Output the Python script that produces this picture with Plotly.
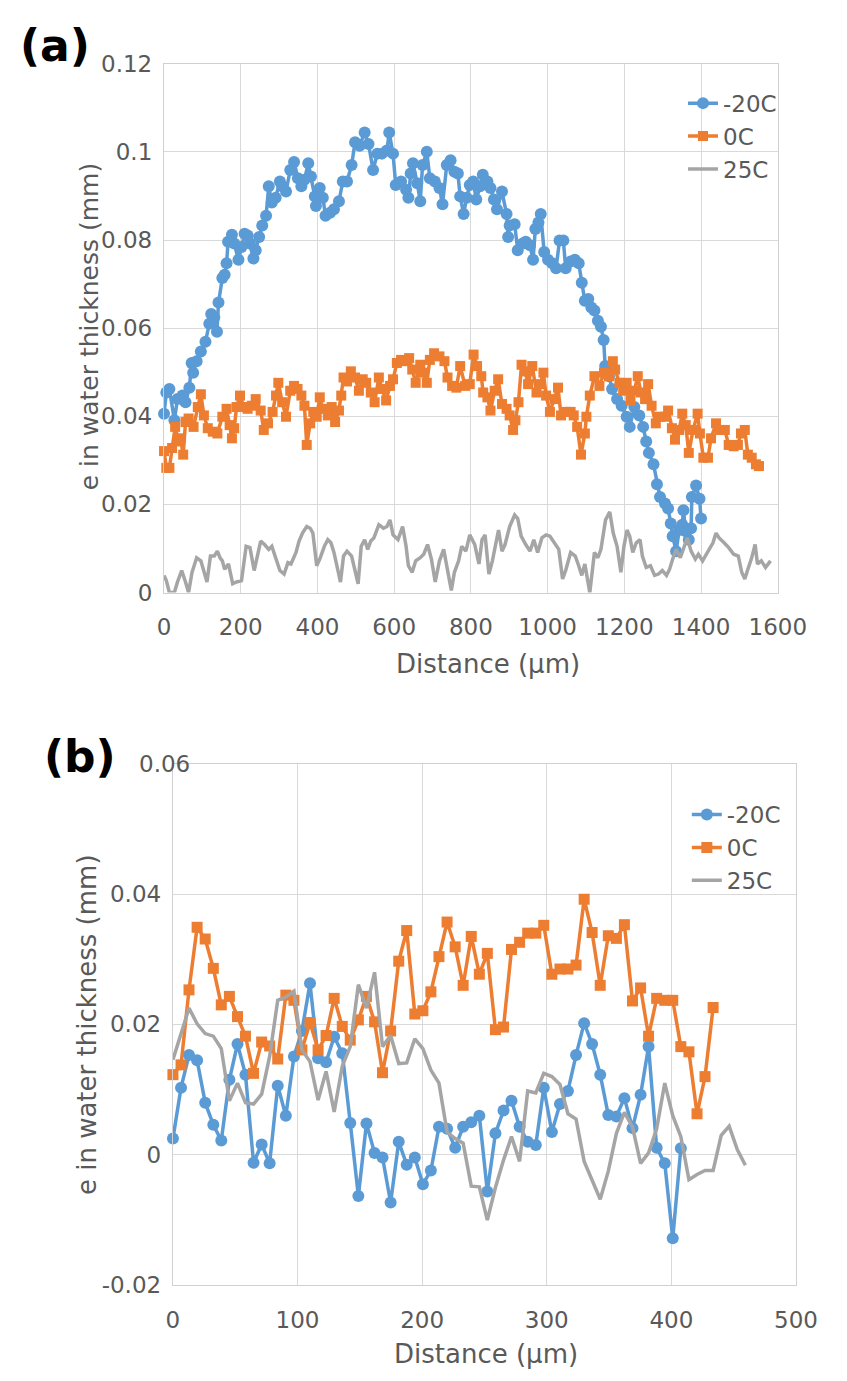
import plotly.graph_objects as go

# ---------------- Panel (a) data ----------------
a_m20_x = [0, 6, 14, 27, 35, 48, 56, 66, 72, 76, 85, 96, 108, 118, 123, 131, 138, 142, 152, 158,
           163, 167, 177, 183, 194, 202, 210, 218, 224, 233, 239, 248, 256, 266, 273, 281, 291, 302, 308, 318,
           329, 339, 349, 358, 366, 376, 383, 393, 396, 406, 414, 421, 433, 443, 456, 466, 477, 489, 498, 510,
           523, 533, 545, 556, 568, 581, 587, 597, 604, 618, 631, 637, 643, 649, 660, 668, 674, 685, 693, 706,
           718, 726, 737, 747, 757, 766, 772, 781, 789, 797, 806, 814, 824, 831, 843, 851, 860, 868, 881, 893,
           897, 901, 914, 922, 935, 943, 954, 962, 968, 976, 982, 991, 1001, 1012, 1022, 1031, 1041, 1047, 1060, 1071,
           1081, 1089, 1097, 1106, 1114, 1122, 1131, 1139, 1146, 1150, 1160, 1168, 1181, 1193, 1206, 1214, 1226, 1239, 1249, 1257,
           1264, 1276, 1285, 1293, 1306, 1314, 1321, 1326, 1335, 1343, 1351, 1354, 1360, 1368, 1374, 1376, 1387, 1396, 1400]
a_m20_y = [0.0406, 0.0454, 0.0462, 0.0391, 0.0439, 0.0447, 0.0432, 0.0465, 0.0521, 0.0499, 0.0525, 0.0547, 0.0569, 0.0610, 0.0632, 0.0625, 0.0592, 0.0658, 0.0714, 0.0721,
           0.0747, 0.0796, 0.0812, 0.0792, 0.0755, 0.0784, 0.0814, 0.0810, 0.0792, 0.0758, 0.0777, 0.0807, 0.0833, 0.0855, 0.0922, 0.0885, 0.0896, 0.0933, 0.0922, 0.0910,
           0.0959, 0.0977, 0.0940, 0.0922, 0.0937, 0.0974, 0.0944, 0.0899, 0.0877, 0.0918, 0.0896, 0.0855, 0.0862, 0.0870, 0.0888, 0.0933, 0.0933, 0.0970, 0.1022, 0.1014,
           0.1044, 0.1018, 0.0959, 0.0996, 0.0996, 0.1003, 0.1044, 0.0996, 0.0925, 0.0933, 0.0914, 0.0896, 0.0951, 0.0974, 0.0929, 0.0888, 0.0970, 0.1000, 0.0940, 0.0933,
           0.0918, 0.0881, 0.0970, 0.0981, 0.0955, 0.0951, 0.0899, 0.0859, 0.0896, 0.0925, 0.0933, 0.0892, 0.0922, 0.0948, 0.0933, 0.0918, 0.0892, 0.0870, 0.0910, 0.0859,
           0.0807, 0.0833, 0.0836, 0.0777, 0.0792, 0.0796, 0.0788, 0.0755, 0.0825, 0.0840, 0.0859, 0.0773, 0.0755, 0.0747, 0.0736, 0.0799, 0.0799, 0.0736, 0.0751, 0.0755,
           0.0747, 0.0703, 0.0662, 0.0666, 0.0647, 0.0640, 0.0617, 0.0603, 0.0573, 0.0514, 0.0491, 0.0462, 0.0439, 0.0424, 0.0399, 0.0376, 0.0421, 0.0402, 0.0376, 0.0343,
           0.0317, 0.0291, 0.0246, 0.0217, 0.0202, 0.0191, 0.0157, 0.0128, 0.0094, 0.0142, 0.0154, 0.0187, 0.0139, 0.0120, 0.0146, 0.0217, 0.0243, 0.0213, 0.0168]

a_0_x = [0, 6, 14, 21, 29, 38, 43, 50, 56, 64, 77, 88, 96, 104, 114, 127, 139, 152, 163, 171,
         177, 183, 189, 198, 208, 218, 229, 239, 252, 260, 271, 283, 292, 298, 308, 318, 329, 339, 348, 358,
         366, 372, 381, 389, 398, 406, 414, 427, 437, 446, 456, 462, 468, 477, 487, 498, 508, 518, 527, 539,
         549, 560, 568, 579, 589, 597, 607, 618, 631, 639, 647, 656, 668, 676, 685, 693, 704, 718, 731, 739,
         751, 762, 772, 785, 797, 807, 816, 827, 832, 843, 851, 862, 871, 881, 893, 901, 910, 916, 924, 932,
         941, 949, 960, 971, 981, 989, 996, 1006, 1018, 1027, 1035, 1047, 1060, 1068, 1077, 1087, 1097, 1101, 1110, 1122,
         1135, 1147, 1160, 1170, 1176, 1187, 1197, 1206, 1216, 1226, 1235, 1243, 1254, 1262, 1271, 1282, 1293, 1306, 1314, 1324,
         1332, 1343, 1351, 1360, 1368, 1379, 1391, 1397, 1406, 1418, 1426, 1439, 1449, 1462, 1472, 1485, 1496, 1504, 1514, 1522,
         1532, 1543, 1551]
a_0_y = [0.0321, 0.0283, 0.0283, 0.0328, 0.0376, 0.0343, 0.0350, 0.0313, 0.0387, 0.0395, 0.0376, 0.0421, 0.0450, 0.0402, 0.0373, 0.0365, 0.0361, 0.0399, 0.0417, 0.0380,
         0.0350, 0.0373, 0.0421, 0.0447, 0.0421, 0.0417, 0.0424, 0.0439, 0.0413, 0.0369, 0.0384, 0.0410, 0.0447, 0.0476, 0.0432, 0.0399, 0.0458, 0.0469, 0.0462, 0.0447,
         0.0424, 0.0335, 0.0384, 0.0410, 0.0399, 0.0443, 0.0417, 0.0402, 0.0421, 0.0387, 0.0413, 0.0447, 0.0488, 0.0479, 0.0502, 0.0488, 0.0458, 0.0484, 0.0476, 0.0454,
         0.0432, 0.0488, 0.0462, 0.0436, 0.0469, 0.0484, 0.0521, 0.0528, 0.0525, 0.0532, 0.0506, 0.0476, 0.0517, 0.0499, 0.0476, 0.0528, 0.0543, 0.0536, 0.0525, 0.0488,
         0.0469, 0.0465, 0.0514, 0.0469, 0.0473, 0.0540, 0.0514, 0.0491, 0.0454, 0.0443, 0.0413, 0.0458, 0.0484, 0.0428, 0.0417, 0.0402, 0.0369, 0.0391, 0.0432, 0.0517,
         0.0502, 0.0473, 0.0514, 0.0454, 0.0473, 0.0499, 0.0447, 0.0410, 0.0439, 0.0465, 0.0402, 0.0410, 0.0410, 0.0402, 0.0376, 0.0313, 0.0361, 0.0399, 0.0447, 0.0491,
         0.0469, 0.0499, 0.0491, 0.0525, 0.0506, 0.0476, 0.0458, 0.0476, 0.0436, 0.0458, 0.0491, 0.0454, 0.0439, 0.0473, 0.0424, 0.0384, 0.0399, 0.0399, 0.0413, 0.0373,
         0.0347, 0.0369, 0.0406, 0.0380, 0.0317, 0.0369, 0.0406, 0.0361, 0.0306, 0.0306, 0.0350, 0.0384, 0.0369, 0.0369, 0.0335, 0.0332, 0.0335, 0.0361, 0.0369, 0.0313,
         0.0306, 0.0291, 0.0287]

a_25_x = [0, 6, 14, 27, 35, 46, 56, 64, 73, 85, 96, 106, 112, 121, 131, 139, 146, 152, 158, 168,
          179, 189, 202, 214, 224, 235, 243, 252, 262, 273, 281, 293, 302, 313, 323, 331, 344, 352, 361, 372,
          381, 388, 393, 398, 406, 418, 427, 435, 443, 452, 460, 468, 477, 489, 498, 506, 514, 523, 531, 539,
          547, 560, 572, 581, 589, 597, 610, 622, 631, 637, 647, 656, 668, 677, 687, 697, 707, 718, 729, 739,
          749, 757, 768, 776, 787, 797, 810, 821, 829, 837, 847, 856, 864, 872, 881, 889, 901, 914, 922, 931,
          943, 954, 964, 974, 985, 996, 1006, 1018, 1029, 1039, 1047, 1060, 1072, 1081, 1089, 1097, 1110, 1122, 1131, 1139,
          1151, 1162, 1171, 1181, 1191, 1199, 1207, 1214, 1222, 1231, 1241, 1247, 1257, 1268, 1279, 1289, 1299, 1310, 1318, 1326,
          1335, 1346, 1356, 1364, 1374, 1385, 1393, 1404, 1414, 1422, 1431, 1439, 1447, 1460, 1472, 1485, 1497, 1506, 1514, 1522,
          1531, 1541, 1547, 1557, 1568, 1581]
a_25_y = [0.0039, 0.0027, 0.0000, 0.0000, 0.0024, 0.0050, 0.0024, 0.0000, 0.0046, 0.0079, 0.0072, 0.0039, 0.0024, 0.0083, 0.0083, 0.0094, 0.0079, 0.0072, 0.0053, 0.0065,
          0.0020, 0.0024, 0.0027, 0.0105, 0.0102, 0.0050, 0.0083, 0.0117, 0.0109, 0.0098, 0.0105, 0.0076, 0.0050, 0.0042, 0.0068, 0.0065, 0.0091, 0.0117, 0.0135, 0.0150,
          0.0146, 0.0135, 0.0105, 0.0061, 0.0076, 0.0105, 0.0120, 0.0113, 0.0091, 0.0053, 0.0024, 0.0083, 0.0094, 0.0083, 0.0046, 0.0020, 0.0105, 0.0120, 0.0098, 0.0117,
          0.0124, 0.0154, 0.0146, 0.0150, 0.0165, 0.0131, 0.0120, 0.0150, 0.0105, 0.0061, 0.0046, 0.0072, 0.0079, 0.0087, 0.0109, 0.0076, 0.0024, 0.0072, 0.0098, 0.0053,
          0.0005, 0.0046, 0.0072, 0.0105, 0.0094, 0.0131, 0.0109, 0.0065, 0.0120, 0.0131, 0.0042, 0.0072, 0.0109, 0.0142, 0.0094, 0.0109, 0.0150, 0.0176, 0.0168, 0.0128,
          0.0109, 0.0094, 0.0120, 0.0091, 0.0124, 0.0131, 0.0128, 0.0113, 0.0098, 0.0031, 0.0050, 0.0091, 0.0083, 0.0061, 0.0039, 0.0065, 0.0000, 0.0091, 0.0079, 0.0098,
          0.0165, 0.0183, 0.0135, 0.0105, 0.0046, 0.0105, 0.0142, 0.0128, 0.0091, 0.0113, 0.0120, 0.0083, 0.0057, 0.0061, 0.0039, 0.0042, 0.0050, 0.0039, 0.0053, 0.0076,
          0.0098, 0.0079, 0.0102, 0.0124, 0.0094, 0.0076, 0.0087, 0.0072, 0.0087, 0.0098, 0.0113, 0.0135, 0.0124, 0.0113, 0.0102, 0.0087, 0.0083, 0.0046, 0.0031, 0.0053,
          0.0076, 0.0109, 0.0065, 0.0072, 0.0057, 0.0072]

# ---------------- Panel (b) data ----------------
b_x = [0, 6.5, 12.9, 19.4, 25.9, 32.4, 38.8, 45.3, 51.8, 58.2, 64.7, 71.2, 77.6, 84.1, 90.6, 97.1, 103.5, 110.0,
       116.5, 122.9, 129.4, 135.9, 142.3, 148.8, 155.3, 161.8, 168.2, 174.7, 181.2, 187.6, 194.1, 200.6, 207.0, 213.5,
       220.0, 226.5, 232.9, 239.4, 245.9, 252.3, 258.8, 265.3, 271.7, 278.2, 284.7, 291.2, 297.6, 304.1, 310.6, 317.0,
       323.5, 330.0, 336.4, 342.9, 349.4, 355.9, 362.3, 368.8, 375.3, 381.7, 388.2, 394.7, 401.1, 407.6, 414.1, 420.6,
       427.0, 433.5, 440.0, 446.4, 452.9, 459.4]
b_m20_y = [0.0025, 0.0103, 0.0153, 0.0145, 0.0080, 0.0046, 0.0022, 0.0115, 0.0170, 0.0123, -0.0012, 0.0016, -0.0013, 0.0106, 0.0060, 0.0151,
           0.0190, 0.0263, 0.0148, 0.0142, 0.0181, 0.0156, 0.0049, -0.0063, 0.0048, 0.0003, -0.0004, -0.0073, 0.0020, -0.0015, -0.0004, -0.0045,
           -0.0024, 0.0043, 0.0040, 0.0011, 0.0043, 0.0050, 0.0060, -0.0056, 0.0033, 0.0068, 0.0083, 0.0043, 0.0020, 0.0015, 0.0103, 0.0035,
           0.0078, 0.0098, 0.0153, 0.0202, 0.0170, 0.0123, 0.0061, 0.0059, 0.0087, 0.0041, 0.0092, 0.0166, 0.0011, -0.0013, -0.0128, 0.0010]
b_0_y = [0.0123, 0.0138, 0.0253, 0.0349, 0.0331, 0.0286, 0.0230, 0.0243, 0.0212, 0.0182,
         0.0125, 0.0173, 0.0167, 0.0147, 0.0245, 0.0237, 0.0161, 0.0203, 0.0161, 0.0183,
         0.0240, 0.0197, 0.0176, 0.0207, 0.0243, 0.0204, 0.0126, 0.0190, 0.0297, 0.0344,
         0.0216, 0.0221, 0.0250, 0.0304, 0.0357, 0.0319, 0.0260, 0.0335, 0.0277, 0.0309,
         0.0192, 0.0196, 0.0315, 0.0326, 0.0340, 0.0340, 0.0352, 0.0277, 0.0285, 0.0285,
         0.0291, 0.0392, 0.0341, 0.0260, 0.0336, 0.0332, 0.0353, 0.0236, 0.0256, 0.0182,
         0.0240, 0.0237, 0.0237, 0.0166, 0.0158, 0.0063, 0.0120, 0.0226]
b_25_y = [0.0146, 0.0186, 0.0225, 0.0201, 0.0186, 0.0182, 0.0163, 0.0083, 0.0110, 0.0080,
          0.0078, 0.0093, 0.0151, 0.0237, 0.0242, 0.0251, 0.0161, 0.0143, 0.0084, 0.0128,
          0.0066, 0.0136, 0.0166, 0.0261, 0.0225, 0.0280, 0.0166, 0.0183, 0.0140, 0.0141,
          0.0178, 0.0163, 0.0130, 0.0110, 0.0035, 0.0025, 0.0018, -0.0048, -0.0049, -0.0100,
          -0.0050, -0.0008, 0.0028, -0.0010, 0.0098, 0.0095, 0.0125, 0.0120, 0.0108, 0.0063,
          0.0055, -0.0010, -0.0040, -0.0068, -0.0025, 0.0033, 0.0065, 0.0043, -0.0013, 0.0003,
          0.0040, 0.0110, 0.0060, 0.0028, -0.0038, -0.0030, -0.0024, -0.0024, 0.0030, 0.0044,
          0.0008, -0.0016]

series_names = ["-20C", "0C", "25C"]
a_x_ticks = [0, 200, 400, 600, 800, 1000, 1200, 1400, 1600]
a_y_ticks = [0, 0.02, 0.04, 0.06, 0.08, 0.1, 0.12]
b_x_ticks = [0, 100, 200, 300, 400, 500]
b_y_ticks = [-0.02, 0, 0.02, 0.04, 0.06]
b_y_labels = ["-0.02", "0", "0.02", "0.04", ""]
b_y_top_label = "0.06"

BLUE = "#5B9BD5"
ORANGE = "#ED7D31"
GRAY = "#A5A5A5"
TXT = "#595959"
GRID = "#D9D9D9"
FONT = "DejaVu Sans"
W, H = 847, 1381

fig = go.Figure()

def add_series(x, y, name, color, symbol, xa, ya, leg, grp, markers=True, msize=12):
    fig.add_trace(go.Scatter(
        x=x, y=y, name=name, xaxis=xa, yaxis=ya, legend=leg, legendgroup=grp,
        mode="lines+markers" if markers else "lines",
        line=dict(color=color, width=3.5),
        marker=dict(color=color, size=msize, symbol=symbol, line=dict(width=0)),
        cliponaxis=False,
    ))

add_series(a_m20_x, a_m20_y, series_names[0], BLUE, "circle", "x", "y", "legend", "a1", True, 12)
add_series(a_0_x, a_0_y, series_names[1], ORANGE, "square", "x", "y", "legend", "a2", True, 10)
add_series(a_25_x, a_25_y, series_names[2], GRAY, "circle", "x", "y", "legend", "a3", False)

add_series(b_x[:len(b_m20_y)], b_m20_y, series_names[0], BLUE, "circle", "x2", "y2", "legend2", "b1", True, 12)
add_series(b_x[:len(b_0_y)], b_0_y, series_names[1], ORANGE, "square", "x2", "y2", "legend2", "b2", True, 11)
add_series(b_x[:len(b_25_y)], b_25_y, series_names[2], GRAY, "circle", "x2", "y2", "legend2", "b3", False)

tickfont = dict(family=FONT, size=23, color=TXT)
axis_common = dict(showgrid=True, gridcolor=GRID, gridwidth=1.3, zeroline=False,
                   showline=True, mirror=True, linecolor="#D0D0D0", linewidth=1.3,
                   ticks="", tickfont=tickfont, fixedrange=True)

def px_x(p):
    return p / W

def px_y(p):
    return 1 - p / H

fig.update_layout(
    width=W, height=H,
    margin=dict(l=0, r=0, t=0, b=0),
    paper_bgcolor="white", plot_bgcolor="white",
    font=dict(family=FONT, color=TXT),
    xaxis=dict(domain=[px_x(164), px_x(805)], anchor="y", range=[0, 1600],
               tickvals=a_x_ticks, ticklabelstandoff=14, **axis_common),
    yaxis=dict(domain=[px_y(590.7), px_y(51.7)], anchor="x", range=[0, 0.12],
               tickvals=a_y_ticks, ticklabelstandoff=6, **axis_common),
    xaxis2=dict(domain=[px_x(173.3), px_x(824)], anchor="y2", range=[0, 500],
                tickvals=b_x_ticks, ticklabelstandoff=14, **axis_common),
    yaxis2=dict(domain=[px_y(1296.7), px_y(765)], anchor="x2", range=[-0.02, 0.06],
                tickvals=b_y_ticks, ticktext=b_y_labels, ticklabelstandoff=6, **axis_common),
    legend=dict(x=px_x(706), y=px_y(70), xanchor="left", yanchor="top",
                font=dict(family=FONT, size=23, color=TXT), bgcolor="rgba(0,0,0,0)",
                tracegroupgap=10, itemwidth=30, traceorder="normal"),
    legend2=dict(x=px_x(710), y=px_y(795), xanchor="left", yanchor="top",
                 font=dict(family=FONT, size=23, color=TXT), bgcolor="rgba(0,0,0,0)",
                 tracegroupgap=1, itemwidth=30, traceorder="normal"),
    showlegend=True,
)

ann = []
ann.append(dict(text="<b>(a)</b>", x=px_x(12), y=px_y(33), xref="paper", yref="paper",
                xanchor="left", yanchor="middle", showarrow=False,
                font=dict(family=FONT, size=44, color="black")))
ann.append(dict(text="<b>(b)</b>", x=px_x(37), y=px_y(758), xref="paper", yref="paper",
                xanchor="left", yanchor="middle", showarrow=False,
                font=dict(family=FONT, size=44, color="black")))
ann.append(dict(text=b_y_top_label, x=px_x(193), y=px_y(765), xref="paper", yref="paper",
                xanchor="right", yanchor="middle", showarrow=False,
                font=dict(family=FONT, size=23, color=TXT)))
ann.append(dict(text="Distance (µm)", x=px_x(502), y=px_y(663), xref="paper", yref="paper",
                xanchor="center", yanchor="middle", showarrow=False,
                font=dict(family=FONT, size=26, color=TXT)))
ann.append(dict(text="Distance (µm)", x=px_x(500), y=px_y(1367), xref="paper", yref="paper",
                xanchor="center", yanchor="middle", showarrow=False,
                font=dict(family=FONT, size=26, color=TXT)))
ann.append(dict(text="e in water thickness (mm)", x=px_x(87), y=px_y(319), xref="paper", yref="paper",
                xanchor="center", yanchor="middle", showarrow=False, textangle=-90,
                font=dict(family=FONT, size=25, color=TXT)))
ann.append(dict(text="e in water thickness (mm)", x=px_x(83), y=px_y(1031), xref="paper", yref="paper",
                xanchor="center", yanchor="middle", showarrow=False, textangle=-90,
                font=dict(family=FONT, size=26, color=TXT)))
fig.update_layout(annotations=ann)

fig.write_html("out.html")
